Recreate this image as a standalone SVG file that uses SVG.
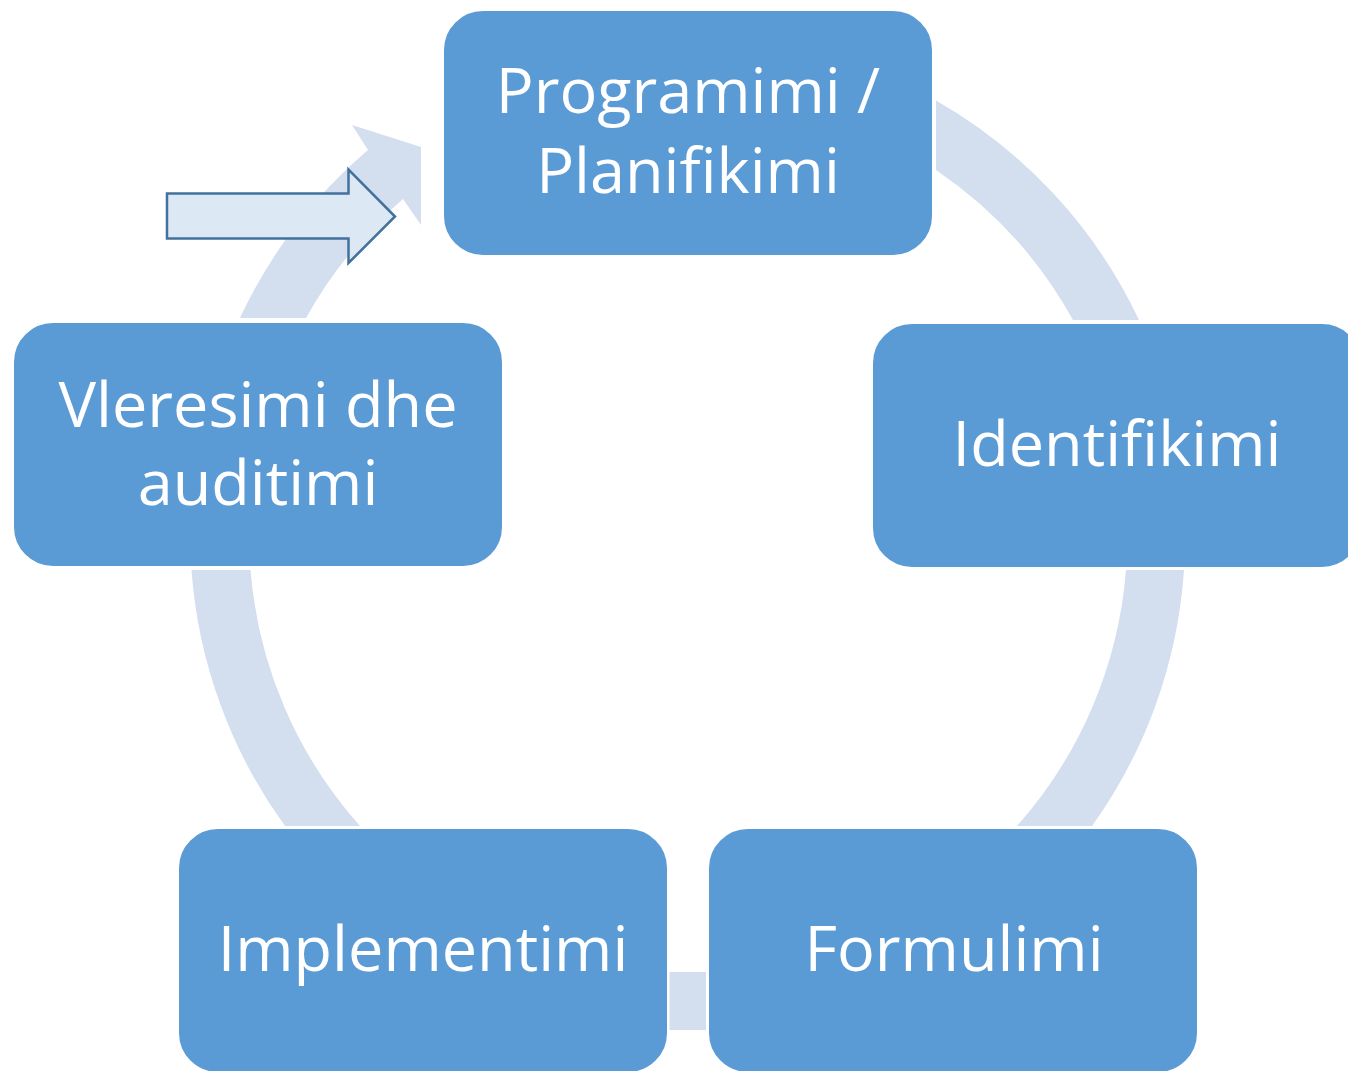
<svg xmlns="http://www.w3.org/2000/svg" width="1348" height="1071" viewBox="0 0 1348 1071">
<style>
.box{fill:#5b9bd5;stroke:#ffffff;stroke-width:2}
.band{fill:#d3deef}
.lbl{fill:#ffffff;font-family:"Open Sans","Noto Sans",sans-serif;font-size:63px;text-anchor:middle}
</style>
<rect width="1348" height="1071" fill="#ffffff"/>
<g id="connectors">
<path class="band" d="M 936 100.5 A 497 497 0 0 1 1139 320 L 1073 320 A 437 437 0 0 0 936 170 Z"/>
<path class="band" d="M 1184 570 A 497 497 0 0 1 1092 826 L 1017 826 A 437 437 0 0 0 1126 570 Z"/>
<rect class="band" x="669.5" y="972" width="36.5" height="58"/>
<path class="band" d="M 191.5 570 L 250.5 570 A 437 437 0 0 0 360 826 L 285 826 A 497 497 0 0 1 191.5 570 Z"/>
<path class="band" d="M 240 318 A 497 497 0 0 1 368 150 L 352 125 L 421 147 L 421 225 L 403 199 A 437 437 0 0 0 306 318 Z"/>
</g>
<g id="node-programimi">
<rect class="box" x="443" y="10" width="490" height="246" rx="40"/>
<text class="lbl" x="688" y="113">Programimi /</text>
<text class="lbl" x="688" y="193">Planifikimi</text>
</g>
<g id="node-identifikimi">
<rect class="box" x="872" y="323" width="490" height="245" rx="40"/>
<text class="lbl" x="1117" y="466">Identifikimi</text>
</g>
<g id="node-formulimi">
<rect class="box" x="708" y="828" width="490" height="245" rx="40"/>
<text class="lbl" x="954" y="971">Formulimi</text>
</g>
<g id="node-implementimi">
<rect class="box" x="178" y="828" width="490" height="245" rx="40"/>
<text class="lbl" x="423" y="971">Implementimi</text>
</g>
<g id="node-vleresimi">
<rect class="box" x="13" y="322" width="490" height="245" rx="40"/>
<text class="lbl" x="258" y="427">Vleresimi dhe</text>
<text class="lbl" x="258" y="505">auditimi</text>
</g>
<g id="start-arrow">
<path d="M 167 193.5 L 348.5 193.5 L 348.5 169.5 L 395 216.5 L 348.5 263 L 348.5 238.5 L 167 238.5 Z" fill="#dde8f5" stroke="#41719c" stroke-width="2.5" stroke-linejoin="miter"/>
</g>
</svg>
